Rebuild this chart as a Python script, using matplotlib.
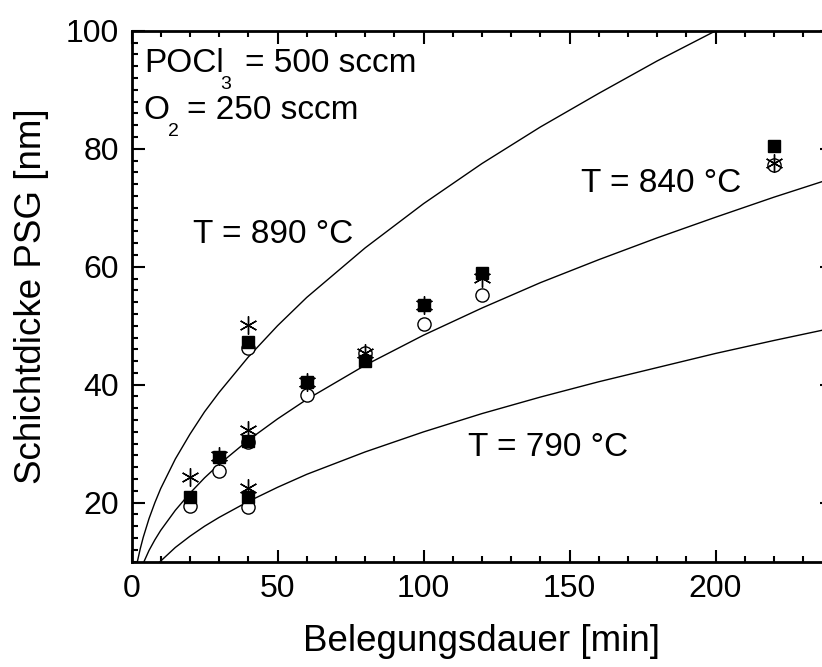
import numpy as np
import matplotlib
matplotlib.use("Agg")
import matplotlib.pyplot as plt
from matplotlib.ticker import MultipleLocator

plt.rcParams['font.family'] = ['Liberation Sans', 'DejaVu Sans']

# measured layer thickness [nm] vs. deposition time [min]
t_meas = [20, 30, 40, 40, 40, 60, 80, 100, 120, 220]
d_square = [20.9, 27.8, 47.2, 30.5, 21.0, 40.4, 44.1, 53.5, 58.9, 80.5]
d_circle = [19.5, 25.3, 46.2, 30.2, 19.3, 38.2, 45.4, 50.3, 55.2, 77.3]
d_star = [24.4, 27.9, 50.1, 32.4, 22.4, 40.5, 45.4, 53.6, 58.1, 77.6]

# fit curves
t_fit = [0, 0.5, 1, 2, 3, 4, 6, 8, 10, 15, 20, 25, 30, 40, 50, 60, 80,
         100, 120, 140, 160, 180, 200, 220, 240]
d_890 = [0, 5.0, 7.1, 10.0, 12.2, 14.1, 17.3, 20.0, 22.4, 27.4, 31.6, 35.4,
         38.7, 44.7, 50.0, 54.8, 63.2, 70.7, 77.5, 83.7, 89.4, 94.9, 100.0,
         104.9, 109.5]
d_840 = [0, 3.4, 4.8, 6.8, 8.4, 9.7, 11.9, 13.7, 15.3, 18.7, 21.6, 24.2,
         26.5, 30.6, 34.2, 37.5, 43.3, 48.4, 53.0, 57.3, 61.2, 64.9, 68.4,
         71.8, 75.0]
d_790 = [0, 2.3, 3.2, 4.5, 5.5, 6.4, 7.8, 9.1, 10.1, 12.4, 14.3, 16.0,
         17.5, 20.2, 22.6, 24.8, 28.6, 32.0, 35.1, 37.9, 40.5, 42.9, 45.3,
         47.5, 49.6]

fig = plt.figure(figsize=(8.22, 6.67), dpi=100)
ax = fig.add_axes([0.16, 0.158, 0.8526, 0.7957])

for d in (d_890, d_840, d_790):
    ax.plot(t_fit, d, color='black', lw=1.0)

ax.plot(t_meas, d_circle, 'o', ms=9.5, mfc='white', mec='black', mew=1.0, ls='none')
ax.plot(t_meas, d_square, 's', ms=9, mfc='black', mec='black', ls='none')
ax.plot(t_meas, d_star, marker=(6, 2, 0), ms=13, color='black', mew=1.0, ls='none')

fs = 24
ax.text(21, 65.5, 'T = 890 °C', fontsize=fs, va='center')
ax.text(154, 74.2, 'T = 840 °C', fontsize=fs, va='center')
ax.text(115.2, 29.3, 'T = 790 °C', fontsize=fs, va='center')

# gas flows, subscripts set by hand
ax.text(4.2, 93.1, 'POCl', fontsize=fs, va='baseline')
ax.text(30.4, 90.2, '3', fontsize=14, va='baseline')
ax.text(39.0, 93.1, '= 500 sccm', fontsize=fs, va='baseline')
ax.text(4.2, 85.0, 'O', fontsize=fs, va='baseline')
ax.text(12.4, 82.2, '2', fontsize=14, va='baseline')
ax.text(18.9, 85.0, '= 250 sccm', fontsize=fs, va='baseline')

ax.set_xlim(0, 240)
ax.set_ylim(10, 100)
ax.xaxis.set_major_locator(MultipleLocator(50))
ax.xaxis.set_minor_locator(MultipleLocator(10))
ax.yaxis.set_major_locator(MultipleLocator(20))
ax.yaxis.set_minor_locator(MultipleLocator(2))
ax.tick_params(which='both', direction='in', top=True, right=True, width=1.5)
ax.tick_params(which='major', length=9, labelsize=23, pad=9)
ax.tick_params(which='minor', length=4.5)
for s in ax.spines.values():
    s.set_linewidth(2)

ax.set_xlabel('Belegungsdauer [min]', fontsize=26.5, labelpad=14)
ax.set_ylabel('Schichtdicke PSG [nm]', fontsize=26.5, labelpad=12)

fig.savefig('out.png', dpi=100)
